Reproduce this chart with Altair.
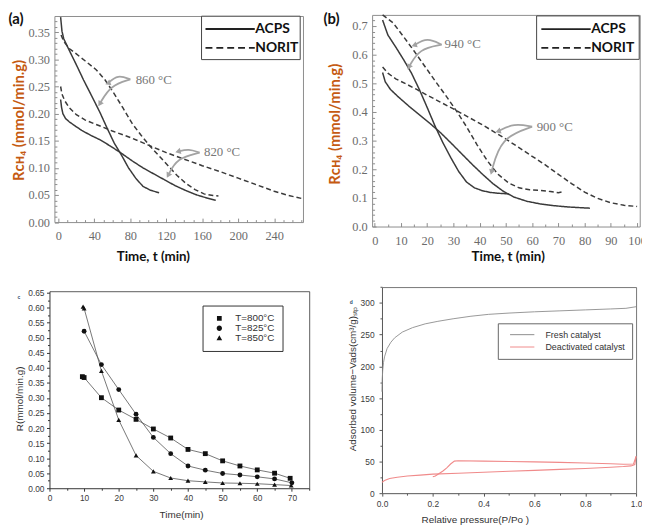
import altair as alt
import pandas as pd

W, H = 642, 522

# ---------------- Panel (a): R_CH4 vs time, 820/860 °C ----------------
a_acps860_t = [2.5, 4, 6, 12, 20, 28, 36, 46, 54, 62, 70, 78, 86, 94, 102, 112]
a_acps860_v = [0.378, 0.352, 0.338, 0.317, 0.290, 0.262, 0.236, 0.203, 0.174, 0.146, 0.124, 0.100, 0.081, 0.066, 0.059, 0.054]
a_acps820_t = [2.5, 3.5, 5, 8, 12, 18, 26, 36, 46, 58, 70, 82, 94, 106, 118, 130, 142, 154, 166, 175]
a_acps820_v = [0.226, 0.212, 0.200, 0.191, 0.185, 0.178, 0.169, 0.160, 0.152, 0.140, 0.127, 0.113, 0.100, 0.089, 0.078, 0.067, 0.058, 0.050, 0.044, 0.040]
a_norit860_t = [3, 6, 12, 20, 30, 42, 52, 62, 72, 82, 92, 102, 112, 122, 132, 142, 152, 162, 172, 178]
a_norit860_v = [0.345, 0.333, 0.320, 0.310, 0.297, 0.281, 0.262, 0.237, 0.210, 0.182, 0.160, 0.140, 0.122, 0.104, 0.086, 0.071, 0.060, 0.052, 0.049, 0.048]
a_norit820_t = [2.5, 4, 7, 12, 20, 30, 45, 60, 80, 100, 120, 140, 160, 180, 200, 220, 240, 256, 272]
a_norit820_v = [0.250, 0.236, 0.224, 0.211, 0.198, 0.188, 0.178, 0.168, 0.156, 0.142, 0.128, 0.116, 0.104, 0.093, 0.081, 0.069, 0.057, 0.049, 0.043]
a_labels = ["860 °C", "820 °C"]
a_label_t = [106, 182]
a_label_v = [0.261, 0.130]
a_arrow_t = [[80, 66, 55], [80, 58, 46], [157, 145, 133], [157, 132, 122]]
a_arrow_v = [[0.263, 0.272, 0.256], [0.263, 0.252, 0.218], [0.128, 0.135, 0.130], [0.128, 0.118, 0.086]]
a_arrow_dir = [250, 212, 255, 208]
a_xticks = [0, 40, 80, 120, 160, 200, 240]
a_yticks = [0.00, 0.05, 0.10, 0.15, 0.20, 0.25, 0.30, 0.35]
# legend placement (data units of panel a)
a_leg_box_t = [159.2, 268.9]
a_leg_box_v = [0.2996, 0.3796]
a_leg_line_t = [163.6, 218.4]
a_leg_row_v = [0.356, 0.3214]

# ---------------- Panel (b): 900/940 °C ----------------
b_acps940_t = [3, 5, 8, 11, 14, 17, 20, 23, 26, 29, 32, 35, 38, 41, 44, 47, 51]
b_acps940_v = [0.720, 0.668, 0.626, 0.582, 0.535, 0.478, 0.415, 0.350, 0.292, 0.240, 0.192, 0.155, 0.135, 0.125, 0.119, 0.116, 0.114]
b_acps900_t = [3, 4, 6, 9, 13, 17, 21, 25, 29, 33, 37, 41, 45, 49, 53, 58, 63, 68, 74, 82]
b_acps900_v = [0.537, 0.505, 0.478, 0.452, 0.420, 0.390, 0.360, 0.328, 0.292, 0.255, 0.218, 0.183, 0.150, 0.123, 0.103, 0.088, 0.079, 0.073, 0.068, 0.064]
b_norit940_t = [3, 7, 11, 15, 19, 23, 27, 31, 35, 39, 43, 47, 51, 55, 59, 63, 67, 70, 72]
b_norit940_v = [0.738, 0.710, 0.662, 0.612, 0.560, 0.508, 0.458, 0.405, 0.348, 0.285, 0.228, 0.182, 0.152, 0.135, 0.128, 0.126, 0.122, 0.118, 0.122]
b_norit900_t = [3, 5, 8, 12, 16, 20, 25, 30, 35, 40, 45, 50, 55, 60, 65, 70, 75, 80, 85, 90, 95, 100]
b_norit900_v = [0.556, 0.535, 0.515, 0.497, 0.478, 0.458, 0.434, 0.410, 0.385, 0.360, 0.333, 0.305, 0.275, 0.245, 0.215, 0.182, 0.150, 0.120, 0.098, 0.083, 0.074, 0.070]
b_labels = ["940 °C", "900 °C"]
b_label_t = [33.5, 68.6]
b_label_v = [0.635, 0.346]
b_arrow_t = [[25.5, 20, 15], [25.5, 17, 13], [60, 53, 47], [60, 48, 44.5]]
b_arrow_v = [[0.634, 0.660, 0.632], [0.634, 0.620, 0.556], [0.348, 0.360, 0.332], [0.348, 0.310, 0.190]]
b_arrow_dir = [250, 210, 252, 195]
b_xticks = [0, 10, 20, 30, 40, 50, 60, 70, 80, 90, 100]
b_yticks = [0.0, 0.1, 0.2, 0.3, 0.4, 0.5, 0.6, 0.7]
# legend placement (data units of panel b)
b_leg_box_t = [61.7, 100.8]
b_leg_box_v = [0.583, 0.7345]
b_leg_line_t = [63.5, 82.3]
b_leg_row_v = [0.6887, 0.623]

legend_names = ["ACPS", "NORIT"]

# ---------------- Panel (c): R vs time at 800/825/850 °C ----------------
c_names = ["T=800°C", "T=825°C", "T=850°C"]
c_t800 = [9.5, 10, 15, 20, 25, 30, 35, 40, 45, 50, 55, 60, 65, 69.5]
c_v800 = [0.371, 0.368, 0.301, 0.260, 0.229, 0.197, 0.167, 0.129, 0.115, 0.091, 0.074, 0.061, 0.050, 0.033]
c_t825 = [10, 15, 20, 25, 30, 35, 40, 45, 50, 55, 60, 65, 70]
c_v825 = [0.522, 0.411, 0.328, 0.246, 0.169, 0.115, 0.074, 0.060, 0.049, 0.044, 0.038, 0.031, 0.018]
c_t850 = [9.7, 10, 15, 20, 25, 30, 35, 40, 45, 50, 55, 60, 65, 69.8]
c_v850 = [0.604, 0.598, 0.390, 0.227, 0.109, 0.056, 0.034, 0.025, 0.021, 0.0175, 0.0165, 0.015, 0.012, 0.009]
c_xticks = [0, 10, 20, 30, 40, 50, 60, 70]
c_yticks = [0.00, 0.05, 0.10, 0.15, 0.20, 0.25, 0.30, 0.35, 0.40, 0.45, 0.50, 0.55, 0.60, 0.65]

# ---------------- Panel (d): N2 isotherms ----------------
d_names = ["Fresh catalyst", "Deactivated catalyst"]
d_fresh_p = [0.0, 0.001, 0.003, 0.006, 0.01, 0.02, 0.035, 0.05, 0.08, 0.12, 0.17, 0.22, 0.28, 0.35, 0.42, 0.5, 0.6, 0.7, 0.8, 0.9, 0.96, 1.0]
d_fresh_v = [160, 180, 194, 206, 215, 228, 238, 245, 254, 261, 267, 271, 275, 279, 282, 284, 286, 287.5, 289, 290.5, 291.5, 294]
d_ads_p = [0.0, 0.01, 0.03, 0.06, 0.1, 0.15, 0.2, 0.3, 0.4, 0.5, 0.6, 0.7, 0.8, 0.9, 0.95, 0.98, 0.995, 1.0]
d_ads_v = [17, 20, 23, 25, 27, 28.5, 30, 31.5, 33, 34.5, 36, 37.5, 39, 41, 42, 43, 45, 58]
d_des_p = [1.0, 0.99, 0.95, 0.9, 0.8, 0.7, 0.6, 0.5, 0.4, 0.3, 0.285, 0.27, 0.255, 0.24, 0.225, 0.21, 0.2]
d_des_v = [58, 46, 45.5, 46.5, 47.5, 48.5, 49.3, 50, 50.5, 51, 50.5, 46, 40, 35, 31, 27, 26]
d_xticks = [0.0, 0.2, 0.4, 0.6, 0.8, 1.0]
d_yticks = [0, 50, 100, 150, 200, 250, 300]


def curves(items):
    rows = []
    for name, group, xs, ys in items:
        for i, (x, y) in enumerate(zip(xs, ys)):
            rows.append({"series": name, "group": group, "x": x, "y": y, "idx": i})
    return pd.DataFrame(rows)


def arrows(ts, vs, dirs):
    lines, heads = [], []
    for k, (tt, vv) in enumerate(zip(ts, vs)):
        for i, (t, v) in enumerate(zip(tt, vv)):
            lines.append({"arrow": k, "x": t, "y": v, "idx": i})
        heads.append({"arrow": k, "x": tt[-1], "y": vv[-1], "dir": dirs[k]})
    return pd.DataFrame(lines), pd.DataFrame(heads)


# ---------------- layout of the four panels (pixel ranges) ----------------
PA = dict(xdom=[-4.4, 272], xr=[47, 298.7], ydom=[0, 0.38], yr=[213.5, 4.8])
PB = dict(xdom=[-1, 101], xr=[368.7, 639.7], ydom=[0, 0.738], yr=[218, 3.7])
PC = dict(xdom=[0, 75], xr=[42, 305], ydom=[0, 0.655], yr=[483, 283.5])
PD = dict(xdom=[0, 1], xr=[378.7, 636], ydom=[0, 325], yr=[488, 279.3])


def sx(p):
    return alt.Scale(domain=p["xdom"], range=p["xr"], nice=False, zero=False)


def sy(p):
    return alt.Scale(domain=p["ydom"], range=p["yr"], nice=False, zero=False)


def frame(p, side, color, width=1.0, **kw):
    off = {"bottom": p["yr"][0] - H, "top": -p["yr"][1],
           "left": -p["xr"][0], "right": p["xr"][1] - W}[side]
    kw.setdefault("title", None)
    return alt.Axis(orient=side, offset=off, domain=True, domainColor=color,
                    domainWidth=width, ticks=False, labels=False, grid=False, **kw)


def ticks(p, side, values, size, inward, color, labels=False, domain=False, **kw):
    base = p["yr"][0] - H if side == "bottom" else -p["xr"][0]
    off = base - size if inward else base
    kw.setdefault("title", None)
    return alt.Axis(orient=side, offset=off, values=values, tickSize=size,
                    tickColor=color, tickWidth=1, domain=domain, labels=labels,
                    grid=False, **kw)


def X(p, axis, field="x"):
    return alt.X(f"{field}:Q", scale=sx(p), axis=axis)


def Y(p, axis, field="y"):
    return alt.Y(f"{field}:Q", scale=sy(p), axis=axis)


GRAY = "#8c8c8c"
ORANGE = "#C55A11"
SERIF = "Liberation Serif"
SANS = "Liberation Sans"


def panel_ab(p, items, lab, lab_t, lab_v, ar_t, ar_v, ar_dir, xt, yt, yfmt,
             xminor, yminor, letter, letter_x, xtitle_x, xtitle_y, ytitle_x, ytitle_y,
             box_t, box_v, line_t, row_v):
    df = curves(items)
    ann = pd.DataFrame({"txt": lab, "x": lab_t, "y": lab_v})
    al, ah = arrows(ar_t, ar_v, ar_dir)
    lab_kw = dict(labels=True, labelFont=SERIF, labelFontSize=12.5, labelColor="#6b6b6b")
    lines = alt.Chart(df).mark_line(strokeWidth=1.5, color="#3a3a3a").encode(
        x=X(p, ticks(p, "bottom", xt, 4, True, GRAY, labelPadding=8, **lab_kw)),
        y=Y(p, ticks(p, "left", yt, 4, True, GRAY, labelPadding=5, format=yfmt, **lab_kw)),
        detail="series:N",
        order="idx:Q",
        strokeDash=alt.StrokeDash("group:N",
                                  scale=alt.Scale(domain=legend_names, range=[[1, 0], [5, 3]]),
                                  legend=None),
    )
    text = alt.Chart(ann).mark_text(font=SERIF, fontSize=13, color="#777",
                                    align="center", baseline="middle").encode(
        x=X(p, ticks(p, "bottom", xminor, 2.5, True, GRAY)),
        y=Y(p, ticks(p, "left", yminor, 2.5, True, GRAY)),
        text="txt:N",
    )
    arr = alt.Chart(al).mark_line(color="#a3a3a3", strokeWidth=1.8, interpolate="basis").encode(
        x=X(p, frame(p, "bottom", GRAY, title="Time, t (min)", titleFont="Lato",
                     titleFontSize=13.5, titleFontWeight="bold", titleColor="#111",
                     titleX=xtitle_x, titleY=xtitle_y,
                     titleAlign="center", titleBaseline="middle")),
        y=Y(p, frame(p, "left", GRAY, title="Rᴄʜ₄ (mmol/min.g)", titleFont="Lato",
                     titleFontSize=15, titleFontWeight="bold", titleColor=ORANGE,
                     titleX=ytitle_x, titleY=ytitle_y, titleAngle=270,
                     titleAlign="center", titleBaseline="middle")),
        detail="arrow:N",
        order="idx:Q",
    )
    heads = alt.Chart(ah).mark_point(shape="triangle-up", filled=True, size=40,
                                     color="#a3a3a3", opacity=1).encode(
        x=X(p, frame(p, "top", GRAY, title=letter, titleFont="Lato", titleFontSize=15,
                     titleFontWeight="bold", titleColor="#111", titleX=letter_x,
                     titleY=-p["yr"][1], titleAlign="left", titleBaseline="top")),
        y=Y(p, frame(p, "right", GRAY)),
        angle=alt.Angle("dir:Q", scale=None),
    )
    # legend (box, line samples, labels)
    box = pd.DataFrame({"x": [box_t[0]], "x2": [box_t[1]], "y": [box_v[0]], "y2": [box_v[1]]})
    leg_rect = alt.Chart(box).mark_rect(fill="white", stroke="#444", strokeWidth=1).encode(
        x=X(p, None), x2="x2:Q", y=Y(p, None), y2="y2:Q")
    leg_lines_df = pd.DataFrame({
        "group": [legend_names[0], legend_names[0], legend_names[1], legend_names[1]],
        "x": [line_t[0], line_t[1], line_t[0], line_t[1]],
        "y": [row_v[0], row_v[0], row_v[1], row_v[1]],
    })
    leg_lines = alt.Chart(leg_lines_df).mark_line(strokeWidth=1.8, color="#222").encode(
        x=X(p, None), y=Y(p, None), detail="group:N",
        strokeDash=alt.StrokeDash("group:N",
                                  scale=alt.Scale(domain=legend_names, range=[[1, 0], [7, 4]]),
                                  legend=None),
    )
    leg_text_df = pd.DataFrame({"txt": legend_names, "x": [line_t[1]] * 2, "y": row_v})
    leg_text = alt.Chart(leg_text_df).mark_text(font="Lato", fontSize=14, fontWeight="bold",
                                                color="#111", align="left",
                                                baseline="middle", dx=0.5).encode(
        x=X(p, None), y=Y(p, None), text="txt:N")
    return [lines, text, arr, heads, leg_rect, leg_lines, leg_text]


layers = []
layers += panel_ab(
    PA,
    [("acps860", "ACPS", a_acps860_t, a_acps860_v), ("acps820", "ACPS", a_acps820_t, a_acps820_v),
     ("norit860", "NORIT", a_norit860_t, a_norit860_v), ("norit820", "NORIT", a_norit820_t, a_norit820_v)],
    a_labels, a_label_t, a_label_v, a_arrow_t, a_arrow_v, a_arrow_dir,
    a_xticks, a_yticks, ".2f",
    [t for t in range(10, 271, 10) if t % 40 != 0],
    [round(0.01 * k, 2) for k in range(1, 38) if k % 5 != 0],
    "(a)", 0, 146.7, 35, -36, 110,
    a_leg_box_t, a_leg_box_v, a_leg_line_t, a_leg_row_v)
layers += panel_ab(
    PB,
    [("acps940", "ACPS", b_acps940_t, b_acps940_v), ("acps900", "ACPS", b_acps900_t, b_acps900_v),
     ("norit940", "NORIT", b_norit940_t, b_norit940_v), ("norit900", "NORIT", b_norit900_t, b_norit900_v)],
    b_labels, b_label_t, b_label_v, b_arrow_t, b_arrow_v, b_arrow_dir,
    b_xticks, b_yticks, ".1f",
    [5 + 10 * k for k in range(10)],
    [round(0.02 * k, 2) for k in range(1, 37) if k % 5 != 0],
    "(b)", 319, 506, 30.7, -37.7, 114,
    b_leg_box_t, b_leg_box_v, b_leg_line_t, b_leg_row_v)

# ---------------- Panel (c) layers ----------------
dfc = curves([(c_names[0], c_names[0], c_t800, c_v800), (c_names[1], c_names[1], c_t825, c_v825),
              (c_names[2], c_names[2], c_t850, c_v850)])
CK = "#333333"
c_lab = dict(labels=True, labelFont=SANS, labelFontSize=8.5, labelColor="#3c3c3c")
c_lines = alt.Chart(dfc).mark_line(color="#555", strokeWidth=0.8).encode(
    x=X(PC, ticks(PC, "bottom", c_xticks, 3, False, CK, domain=True, domainColor=CK,
                  labelPadding=2, title="Time(min)", titleFont=SANS, titleFontSize=10,
                  titleFontWeight="normal", titleColor="#333", titleX=175.3, titleY=26.7,
                  titleAlign="center", titleBaseline="middle", **c_lab)),
    y=Y(PC, ticks(PC, "left", c_yticks, 3, False, CK, domain=True, domainColor=CK,
                  labelPadding=2.5, format=".2f", title="R(mmol/min.g)", titleFont=SANS,
                  titleFontSize=10, titleFontWeight="normal", titleColor="#333",
                  titleX=-30, titleY=392, titleAngle=270, titleAlign="center",
                  titleBaseline="middle", **c_lab)),
    detail="series:N",
    order="idx:Q",
)
c_points = alt.Chart(dfc).mark_point(filled=True, color="#111", size=24, opacity=1).encode(
    x=X(PC, ticks(PC, "bottom", [5, 15, 25, 35, 45, 55, 65, 75], 2, False, CK)),
    y=Y(PC, ticks(PC, "left", [round(0.025 + 0.05 * k, 3) for k in range(13)], 2, False, CK)),
    shape=alt.Shape("series:N", scale=alt.Scale(domain=c_names, range=["square", "circle", "triangle-up"]),
                    legend=None),
)
c_sym = [
    "M-3,0H3M-0.8,-0.8H0.8V0.8H-0.8Z",
    "M-3,0H3M0.9,0A0.9,0.9 0 1 1 -0.9,0A0.9,0.9 0 1 1 0.9,0Z",
    "M-3,0H3M0,-1L0.95,0.7H-0.95Z",
]
c_legend = alt.Chart(dfc).mark_point(filled=True, color="#111", opacity=0).encode(
    x=X(PC, frame(PC, "top", CK, width=0.8, title="c", titleFont=SANS, titleFontSize=5,
                  titleFontWeight="bold", titleColor="#2a4a6a", titleX=10.5,
                  titleY=5.8, titleAlign="center", titleBaseline="middle")),
    y=Y(PC, frame(PC, "right", CK, width=0.8)),
    shape=alt.Shape("series:N", scale=alt.Scale(domain=c_names, range=c_sym),
                    legend=alt.Legend(orient="none", legendX=197, legendY=298, title=None,
                                      symbolSize=36, symbolStrokeWidth=0.8,
                                      symbolStrokeColor="#222", symbolFillColor="#222",
                                      symbolOpacity=1, symbolOffset=4, labelOffset=11,
                                      labelFont=SANS, labelFontSize=10, labelColor="#333",
                                      padding=8, rowPadding=0, strokeColor="#333",
                                      fillColor="white", cornerRadius=0)),
)
layers += [c_lines, c_points, c_legend]

# ---------------- Panel (d) layers ----------------
DK = "#555555"
d_lab = dict(labels=True, labelFont=SANS, labelFontSize=8.5, labelColor="#3c3c3c")
d_color = alt.Scale(domain=d_names, range=["#8c8c8c", "#f08a8a"])
d_fresh = alt.Chart(curves([(d_names[0], d_names[0], d_fresh_p, d_fresh_v)])).mark_line(strokeWidth=0.9).encode(
    x=X(PD, ticks(PD, "bottom", d_xticks, 3, False, DK, domain=True, domainColor=DK,
                  labelPadding=3, format=".1f", title="Relative pressure(P/Po )",
                  titleFont=SANS, titleFontSize=10, titleFontWeight="normal",
                  titleColor="#333", titleX=472.7, titleY=26.7, titleAlign="center",
                  titleBaseline="middle", **d_lab)),
    y=Y(PD, ticks(PD, "left", d_yticks, 3, False, DK, domain=True, domainColor=DK,
                  labelPadding=5, format="d", title="Adsorbed volume−Vads(cm³/g)ₛₜₚ",
                  titleFont=SANS, titleFontSize=10, titleFontWeight="normal",
                  titleColor="#333", titleX=-30, titleY=372, titleAngle=270,
                  titleAlign="center", titleBaseline="middle", **d_lab)),
    order="idx:Q",
    color=alt.Color("series:N", scale=d_color,
                    legend=alt.Legend(orient="none", legendX=496, legendY=316, title=None,
                                      symbolType="M-4.1,0H4.1", symbolSize=36,
                                      symbolStrokeWidth=1, symbolOffset=13.2,
                                      labelOffset=19, labelFont=SANS, labelFontSize=9,
                                      labelColor="#333", padding=7, rowPadding=2.5,
                                      strokeColor="#666", fillColor="white", cornerRadius=0,
                                      labelExpr="datum.label + '\u00a0\u00a0\u00a0\u00a0'")),
)
d_ads = alt.Chart(curves([(d_names[1], "ads", d_ads_p, d_ads_v)])).mark_line(strokeWidth=1.1).encode(
    x=X(PD, ticks(PD, "bottom", [0.1, 0.3, 0.5, 0.7, 0.9], 2, False, DK)),
    y=Y(PD, ticks(PD, "left", [25, 75, 125, 175, 225, 275, 325], 2, False, DK)),
    order="idx:Q",
    color=alt.Color("series:N", scale=d_color, legend=None),
)
d_des = alt.Chart(curves([(d_names[1], "des", d_des_p, d_des_v)])).mark_line(strokeWidth=1.1).encode(
    x=X(PD, frame(PD, "top", DK, width=0.8, title="d", titleFont=SANS, titleFontSize=5,
                  titleFontWeight="bold", titleColor="#2a4a6a", titleX=347,
                  titleY=15, titleAlign="center", titleBaseline="middle")),
    y=Y(PD, frame(PD, "right", DK, width=0.8)),
    order="idx:Q",
    color=alt.Color("series:N", scale=d_color, legend=None),
)
layers += [d_fresh, d_ads, d_des]

chart = alt.layer(*layers).resolve_scale(
    x="independent", y="independent", strokeDash="independent",
    color="independent", shape="independent", angle="independent",
).resolve_axis(x="independent", y="independent").resolve_legend(
    strokeDash="independent", color="independent", shape="independent",
).properties(
    width=W, height=H, padding=0, autosize=alt.AutoSizeParams(type="none"),
).configure_view(stroke=None).configure_axis(labelFlush=False, labelOverlap=False, grid=False)

chart.save("out.html", embed_options={"renderer": "svg", "actions": False})
